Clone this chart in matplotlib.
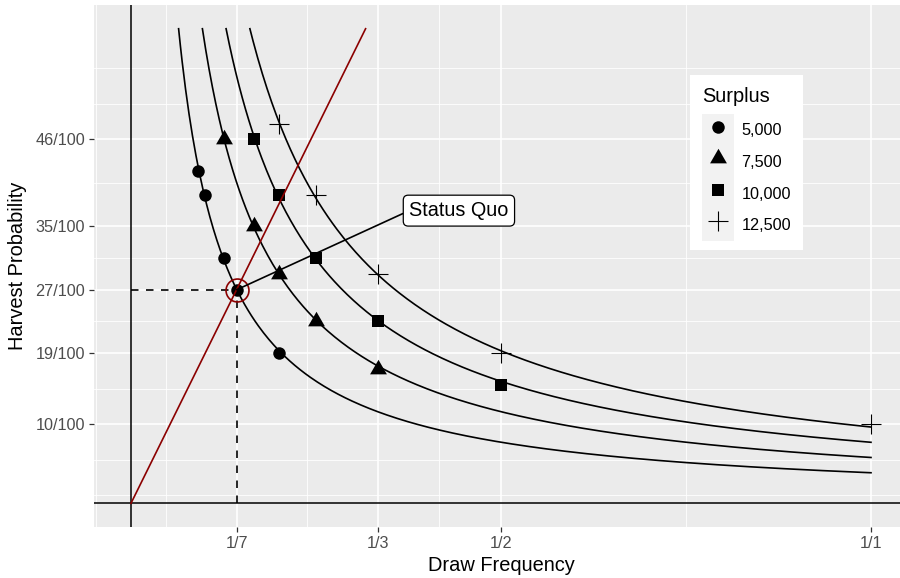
import numpy as np
import matplotlib.pyplot as plt
from matplotlib.patches import Rectangle
from matplotlib.ticker import FixedLocator
from matplotlib.lines import Line2D
from matplotlib.legend_handler import HandlerLine2D

plt.rcParams['font.family'] = ['Liberation Sans', 'DejaVu Sans']

# iso-surplus curves (y = k / x), one per surplus level
surplus_labels = ['5,000', '7,500', '10,000', '12,500']
curve_k = [0.0386, 0.0579, 0.0771, 0.0964]
y_top = 0.6

# marked points on each curve
pts_x = [
    [1/11, 1/10, 1/8, 1/7, 1/5],
    [1/8, 1/6, 1/5, 1/4, 1/3],
    [1/6, 1/5, 1/4, 1/3, 1/2],
    [1/5, 1/4, 1/3, 1/2, 1/1],
]
pts_y = [
    [0.42, 0.39, 0.31, 0.27, 0.19],
    [0.46, 0.35, 0.29, 0.23, 0.17],
    [0.46, 0.39, 0.31, 0.23, 0.15],
    [0.48, 0.39, 0.29, 0.19, 0.10],
]

# red ray through the status quo
ray_x = [0, 0.317]
ray_y = [0, 0.6]

# status quo
sq_x = 1/7
sq_y = 0.27
sq_label = 'Status Quo'
label_x = 0.376
label_y = 0.37

x_ticks = [1/7, 1/3, 1/2, 1]
x_labels = ['1/7', '1/3', '1/2', '1/1']
y_ticks = [0.10, 0.19, 0.27, 0.35, 0.46]
y_labels = ['10/100', '19/100', '27/100', '35/100', '46/100']
x_minor = [-0.0476, 0.0476, 0.2381, 0.4167, 0.75]
y_minor = [0.01, 0.055, 0.145, 0.23, 0.31, 0.405, 0.505, 0.55]

# marker styles (ggplot shapes 16, 17, 15, 3)
tri = [(-1, -0.577), (1, -0.577), (0, 1.155), (-1, -0.577)]
markers = ['o', tri, 's', '+']
msizes = [9, 14, 9, 14]


class KeyBackground(HandlerLine2D):
    # grey key background like ggplot legend keys
    def create_artists(self, legend, orig_handle, xdescent, ydescent,
                       width, height, fontsize, trans):
        gap = legend.labelspacing * fontsize
        bg = Rectangle((-xdescent, -ydescent - gap / 2), width, height + gap,
                       facecolor='#F2F2F2', edgecolor='none', transform=trans)
        arts = super().create_artists(legend, orig_handle, xdescent, ydescent,
                                      width, height, fontsize, trans)
        return [bg] + arts


fig = plt.figure(figsize=(9, 5.78), dpi=100)
ax = fig.add_axes([94 / 900, 1 - 527 / 578, 814 / 900, 522 / 578])
ax.set_facecolor('#EBEBEB')
for sp in ax.spines.values():
    sp.set_visible(False)

ax.set_xlim(-0.05, 1.05)
ax.set_ylim(-0.03, 0.63)
ax.set_xticks(x_ticks, x_labels)
ax.set_yticks(y_ticks, y_labels)
ax.xaxis.set_minor_locator(FixedLocator(x_minor))
ax.yaxis.set_minor_locator(FixedLocator(y_minor))
ax.grid(which='major', color='white', lw=1.2)
ax.grid(which='minor', color='white', lw=0.6)
ax.set_axisbelow(True)
ax.tick_params(which='major', length=3.3, width=0.9, color='#333333',
               labelcolor='#4D4D4D', labelsize=11.7, pad=3)
ax.tick_params(which='minor', length=0)

# axes through the origin
ax.axhline(0, color='black', lw=1.1, zorder=2)
ax.axvline(0, color='black', lw=1.1, zorder=2)

# dashed guides to the status quo
ax.plot([0, sq_x], [sq_y, sq_y], color='black', lw=1.2, dashes=(4.5, 4.5), zorder=2)
ax.plot([sq_x, sq_x], [0, sq_y], color='black', lw=1.2, dashes=(4.5, 4.5), zorder=2)

# curves and points
handles = []
for k, xs, ys, m, ms, lab in zip(curve_k, pts_x, pts_y, markers, msizes, surplus_labels):
    xc = np.linspace(k / y_top, 1, 400)
    ax.plot(xc, k / xc, color='black', lw=1.2, zorder=3)
    mew = 0.8 if m == '+' else 0
    ax.plot(xs, ys, ls='none', marker=m, ms=ms, color='black', mew=mew, zorder=4)
    handles.append(Line2D([], [], ls='none', marker=m, ms=ms, color='black', mew=mew, label=lab))

# red ray and status quo circle
ax.plot(ray_x, ray_y, color='#8B0000', lw=1.2, zorder=5)
ax.plot([sq_x], [sq_y], ls='none', marker='o', ms=16.5, mfc='none',
        mec='#8B0000', mew=1.2, zorder=6)

ax.annotate(sq_label, xy=(sq_x, sq_y), xytext=(label_x, label_y),
            ha='left', va='center', fontsize=14.3, color='black',
            bbox=dict(boxstyle='round,pad=0.3,rounding_size=0.25',
                      fc='white', ec='black', lw=0.9),
            arrowprops=dict(arrowstyle='-', color='black', lw=1.2,
                            shrinkA=0, shrinkB=0, relpos=(0, 0.5)),
            zorder=7)

ax.set_xlabel('Draw Frequency', fontsize=14.4, labelpad=4)
ax.set_ylabel('Harvest Probability', fontsize=14.4, labelpad=6)

leg = ax.legend(handles=handles, title='Surplus', loc='upper left',
                bbox_to_anchor=(690 / 900, 1 - 75 / 578),
                bbox_transform=fig.transFigure, borderaxespad=0,
                fontsize=11.7, title_fontsize=14.4, alignment='left',
                frameon=True, fancybox=False, framealpha=1,
                facecolor='white', edgecolor='none',
                handlelength=1.97, handleheight=2.0, handletextpad=0.45,
                labelspacing=0.4, borderpad=0.75,
                handler_map={Line2D: KeyBackground()})
leg._legend_box.sep += 3.6   # extra gap between title and keys
leg.set_zorder(8)

fig.savefig('out.png', dpi=100)
